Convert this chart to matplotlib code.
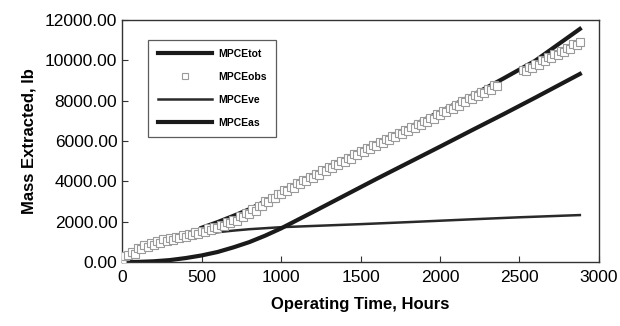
import numpy as np
import matplotlib.pyplot as plt

plt.rcParams['font.family'] = ['Liberation Sans', 'DejaVu Sans']

# modelled curves (hours, lb)
as_hours = [0, 100, 200, 300, 400, 500, 600, 700, 800, 900, 1000, 1200, 1400,
            1600, 1800, 2000, 2200, 2400, 2600, 2880]
mpce_as = [0, 10, 40, 100, 200, 330, 500, 730, 990, 1310, 1670, 2480, 3300,
           4120, 4920, 5720, 6530, 7330, 8150, 9320]

ve_hours = [500, 600, 700, 800, 1000, 1200, 1500, 1800, 2000, 2200, 2500, 2880]
mpce_ve = [1380, 1480, 1560, 1630, 1730, 1790, 1880, 1980, 2050, 2120, 2220, 2330]

tot_hours = [500, 600, 700, 800, 1000, 1200, 1500, 1800, 2000, 2200, 2400, 2600, 2880]
mpce_tot = [1700, 1980, 2290, 2620, 3400, 4270, 5460, 6650, 7450, 8250, 9100, 9980, 11550]

# observed data, logged every 20 h (gap around 2400-2500 h)
obs_hours = list(range(0, 2380, 20)) + list(range(2520, 2900, 20))
mpce_obs = [
    100, 320, 330, 520, 420, 700, 640, 830, 760, 930, 850, 1050, 960, 1120,
    1050, 1190, 1110, 1260, 1180, 1330, 1250, 1400, 1330, 1470, 1400, 1540,
    1500, 1690, 1610, 1760, 1700, 1850, 1790, 1970, 1920, 2110, 2060, 2260,
    2210, 2420, 2390, 2610, 2550, 2800, 2790, 3010, 2990, 3190, 3170, 3390, 3380,
    3580, 3530, 3740, 3690, 3900, 3850, 4060, 4010, 4220, 4170, 4380, 4330,
    4540, 4490, 4700, 4650, 4860, 4810, 5020, 4970, 5180, 5130, 5340, 5290,
    5500, 5440, 5650, 5590, 5800, 5740, 5950, 5890, 6090, 6030, 6240, 6180,
    6390, 6330, 6540, 6480, 6690, 6630, 6840, 6790, 7000, 6950, 7160, 7110,
    7320, 7270, 7480, 7430, 7640, 7590, 7800, 7750, 7960, 7910, 8120, 8070,
    8280, 8230, 8440, 8390, 8600, 8550, 8760, 8710,
    9510, 9460, 9670, 9620, 9830, 9780, 9990, 9940, 10150, 10100, 10310,
    10260, 10470, 10420, 10630, 10580, 10790, 10740, 10900,
]

x_ticks = [0, 500, 1000, 1500, 2000, 2500, 3000]
y_ticks = [0, 2000, 4000, 6000, 8000, 10000, 12000]


def main():
    fig = plt.figure(figsize=(6.2, 3.26), dpi=100)
    ax = fig.add_axes([0.197, 0.196, 0.769, 0.743])

    ax.plot(tot_hours, mpce_tot, color='#1a1a1a', lw=3, label='MPCEtot', zorder=2)
    ax.plot(obs_hours, mpce_obs, ls='none', marker='s', ms=5.5, mfc='white',
            mec='#9a9a9a', mew=0.8, label='MPCEobs', zorder=3)
    ax.plot(ve_hours, mpce_ve, color='#2a2a2a', lw=1.8, label='MPCEve', zorder=2)
    ax.plot(as_hours, mpce_as, color='#1a1a1a', lw=3, label='MPCEas', zorder=2)

    ax.set_xlim(0, 3000)
    ax.set_ylim(0, 12000)
    ax.set_xticks(x_ticks, [str(t) for t in x_ticks])
    ax.set_yticks(y_ticks, ["%.2f" % t for t in y_ticks])
    ax.tick_params(direction='in', length=4, labelsize=12.5, color='#333333')
    ax.tick_params(axis='x', pad=6)
    for s in ax.spines.values():
        s.set_color('#333333')
        s.set_linewidth(1.0)

    ax.set_xlabel("Operating Time, Hours", fontsize=12, fontweight='bold', labelpad=8)
    ax.set_ylabel("Mass Extracted, lb", fontsize=12, fontweight='bold', labelpad=6)

    leg = ax.legend(loc='upper left', bbox_to_anchor=(0.044, 0.94), frameon=True,
                    fancybox=False, edgecolor='#333333', handlelength=5.2,
                    labelspacing=1.25, borderpad=0.9, handletextpad=0.6,
                    prop={'size': 7.5, 'weight': 'bold'}, markerscale=0.7)
    leg.get_frame().set_linewidth(0.9)

    fig.savefig("out.png", dpi=100)


if __name__ == "__main__":
    main()
